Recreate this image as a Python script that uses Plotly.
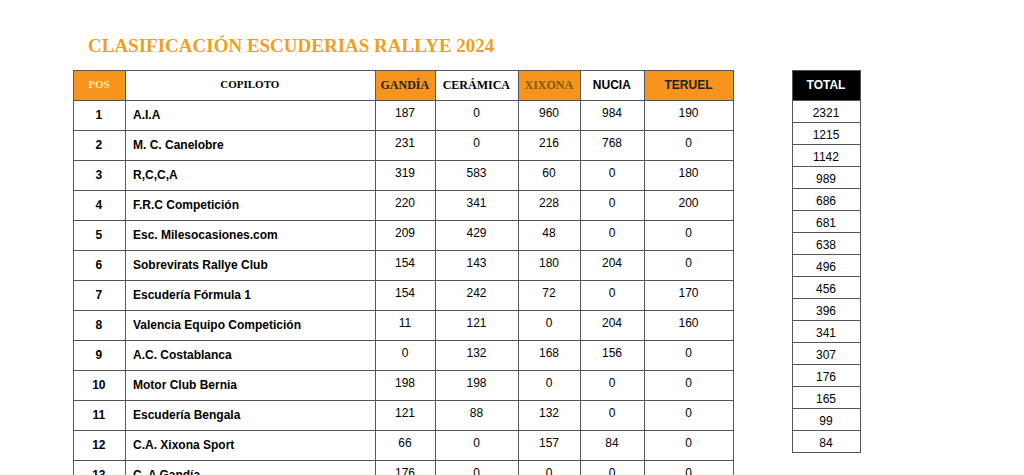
import plotly.graph_objects as go

pos = list(range(1, 17))
teams = ["A.I.A", "M. C. Canelobre", "R,C,C,A", "F.R.C Competición", "Esc. Milesocasiones.com",
         "Sobrevirats Rallye Club", "Escudería Fórmula 1", "Valencia Equipo Competición",
         "A.C. Costablanca", "Motor Club Bernia", "Escudería Bengala", "C.A. Xixona Sport",
         "C. A Gandía", "A.C.A.", "Transportes Casanova", "C.A. Mediterráneo"]
gandia = [187, 231, 319, 220, 209, 154, 154, 11, 0, 198, 121, 66, 176, 165, 99, 0]
ceramica = [0, 0, 583, 341, 429, 143, 242, 121, 132, 198, 88, 0, 0, 0, 0, 0]
xixona = [960, 216, 60, 228, 48, 180, 72, 0, 168, 0, 132, 157, 0, 0, 0, 84]
nucia = [984, 768, 0, 0, 0, 204, 0, 204, 156, 0, 0, 84, 0, 0, 0, 0]
teruel = [190, 0, 180, 200, 0, 0, 170, 160, 0, 0, 0, 0, 0, 0, 0, 0]
total = [2321, 1215, 1142, 989, 686, 681, 638, 496, 456, 396, 341, 307, 176, 165, 99, 84]

headers = ["POS", "COPILOTO", "GANDÍA", "CERÁMICA", "XIXONA", "NUCIA", "TERUEL"]
W, H = 1024, 475
ORANGE = "#F7941D"
LINE = "#555555"
# plotly offsets table drawing a little from the domain edges
DX, DY = 8, 9

fig = go.Figure()
fig.add_trace(go.Table(
    domain=dict(x=[(73 - DX) / W, (733 - DX) / W], y=[0, 1 - (71 - DY) / H]),
    columnwidth=[52, 250, 60, 83, 62, 64, 89],
    header=dict(
        values=[f"<b>{h}</b>" for h in headers],
        fill_color=[ORANGE, "white", ORANGE, "white", ORANGE, "white", ORANGE],
        font=dict(family=["Liberation Serif"] * 5 + ["Liberation Sans"] * 2, size=[11, 11, 12, 12, 12, 12, 12],
                  color=["#FFE9A8", "black", "#222", "black", "#7A5A00", "black", "#222"]),
        line_color=LINE, height=22, align="center"),
    cells=dict(
        values=[[f"<b>{p}</b>" for p in pos], [f"<b>{t}</b>" for t in teams],
                gandia, ceramica, xixona, nucia, teruel],
        fill_color="white", line_color=LINE, height=22,
        align=["center", "left", "center", "center", "center", "center", "center"],
        font=dict(family="Liberation Sans", size=12, color="black")),
))
fig.add_trace(go.Table(
    domain=dict(x=[(792 - DX) / W, (860 - DX) / W], y=[0, 1 - (71 - DY) / H]),
    header=dict(values=["<b>TOTAL</b>"], fill_color="black",
                font=dict(family="Liberation Sans", size=12, color="white"),
                line_color=LINE, height=22, align="center"),
    cells=dict(values=[total], fill_color="white", line_color=LINE, height=22,
               align="center", font=dict(family="Liberation Sans", size=12, color="black")),
))
fig.add_annotation(text="<b>CLASIFICACIÓN ESCUDERIAS RALLYE 2024</b>", x=78 / W, y=1 - 38 / H,
                   xref="paper", yref="paper", xanchor="left", yanchor="middle", showarrow=False,
                   font=dict(family="Liberation Serif", size=19, color="#F0A020"))
fig.update_layout(width=W, height=H, margin=dict(l=0, r=0, t=0, b=0),
                  paper_bgcolor="white", plot_bgcolor="white")
fig.write_html("out.html")
